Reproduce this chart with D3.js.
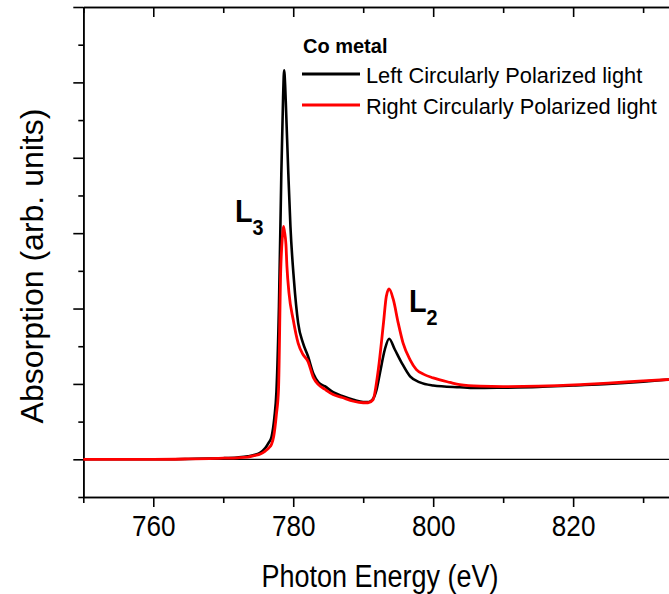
<!DOCTYPE html>
<html>
<head>
<meta charset="utf-8">
<script src="https://cdn.jsdelivr.net/npm/d3@7"></script>
<style>
  html, body { margin: 0; padding: 0; background: #fff; }
  svg { display: block; font-family: "Liberation Sans", Arial, sans-serif; }
</style>
</head>
<body>
<svg id="chart" width="669" height="594"></svg>
<script>
// Co L2,3 edge XMCD spectra: photon energy (eV) vs absorption (arb. units)
const lcpEnergy = [750, 760, 765, 768, 770, 772, 773.5, 774.5, 775.3, 776.0, 776.5, 776.9, 777.3, 777.6, 777.96, 778.3, 778.55, 778.7, 778.85, 778.96, 779.3, 779.6, 780.1, 780.7, 781.4, 782.1, 782.9, 783.6, 784.5, 785.7, 787, 788.6, 790.0, 790.8, 791.4, 791.9, 792.4, 793.1, 793.7, 794.5, 795.5, 796.7, 798.1, 800, 803.8, 806, 810, 815, 820, 825, 830, 834];
const lcpAbs    = [0, 0, 0.005, 0.01, 0.015, 0.025, 0.04, 0.06, 0.09, 0.15, 0.22, 0.3, 0.55, 0.9, 2.03, 3.79, 4.8, 5.16, 4.95, 4.68, 3.79, 3.09, 2.38, 1.81, 1.54, 1.37, 1.13, 1.02, 0.97, 0.89, 0.84, 0.79, 0.76, 0.76, 0.8, 0.92, 1.15, 1.46, 1.60, 1.46, 1.28, 1.10, 1.02, 0.98, 0.955, 0.945, 0.95, 0.96, 0.98, 1.0, 1.03, 1.06];

const rcpEnergy = [750, 760, 765, 768, 770, 772, 773.5, 774.5, 775.3, 776.0, 776.5, 776.9, 777.2, 777.6, 777.9, 778.2, 778.45, 778.6, 778.75, 778.96, 779.1, 779.4, 780.0, 780.7, 781.4, 782.1, 782.9, 783.6, 784.5, 785.7, 787, 788.6, 790.0, 790.7, 791.4, 792.1, 792.9, 793.3, 793.7, 794.3, 795.0, 795.7, 796.7, 797.6, 798.6, 800, 802.4, 803.8, 806.7, 810, 815, 821, 825, 830, 834];
const rcpAbs    = [0, 0, 0.005, 0.01, 0.015, 0.02, 0.03, 0.05, 0.07, 0.11, 0.15, 0.2, 0.3, 0.6, 0.93, 2.47, 2.95, 3.09, 3.02, 2.85, 2.56, 2.2, 1.85, 1.54, 1.39, 1.30, 1.08, 0.99, 0.93, 0.86, 0.82, 0.77, 0.75, 0.75, 0.79, 1.15, 1.81, 2.16, 2.26, 2.12, 1.81, 1.54, 1.32, 1.19, 1.13, 1.08, 1.02, 0.99, 0.97, 0.965, 0.97, 0.99, 1.01, 1.04, 1.06];

const xMajorTicks = [760, 780, 800, 820];
const xMinorTicks = [750, 770, 790, 810, 830];
const yMajorTicks = [0, 1, 2, 3, 4, 5, 6];
const yMinorTicks = [-0.5, 0.5, 1.5, 2.5, 3.5, 4.5, 5.5];

const seriesNames = ["Left Circularly Polarized light", "Right Circularly Polarized light"];
const seriesColors = ["#000000", "#ff0000"];
const legendTitle = "Co metal";

const svg = d3.select("#chart");

const x = d3.scaleLinear().domain([750, 833.7]).range([83.3, 669]);
const y = d3.scaleLinear().domain([-0.5, 6]).range([497, 7]);

const font = '"Liberation Sans", Arial, sans-serif';

// bottom axis: labelled major ticks + minor ticks, pointing out
const bottomMajor = svg.append("g")
  .attr("transform", `translate(0,${y(-0.5)})`)
  .call(d3.axisBottom(x).tickValues(xMajorTicks).tickSize(10).tickSizeOuter(0).tickPadding(8).tickFormat(d3.format("d")));
const bottomMinor = svg.append("g")
  .attr("transform", `translate(0,${y(-0.5)})`)
  .call(d3.axisBottom(x).tickValues(xMinorTicks).tickSize(6).tickSizeOuter(0).tickFormat(""));

// top axis: ticks pointing into the plot
const topMajor = svg.append("g")
  .attr("transform", `translate(0,${y(6)})`)
  .call(d3.axisTop(x).tickValues(xMajorTicks).tickSize(-10).tickSizeOuter(0).tickFormat(""));
const topMinor = svg.append("g")
  .attr("transform", `translate(0,${y(6)})`)
  .call(d3.axisTop(x).tickValues(xMinorTicks).tickSize(-6).tickSizeOuter(0).tickFormat(""));

// left axis: unlabelled ticks pointing out
const leftMajor = svg.append("g")
  .attr("transform", `translate(${x(750)},0)`)
  .call(d3.axisLeft(y).tickValues(yMajorTicks).tickSize(10).tickSizeOuter(0).tickFormat(""));
const leftMinor = svg.append("g")
  .attr("transform", `translate(${x(750)},0)`)
  .call(d3.axisLeft(y).tickValues(yMinorTicks).tickSize(5).tickSizeOuter(0).tickFormat(""));

svg.selectAll(".domain").attr("stroke", "#000").attr("stroke-width", 1.6);
svg.selectAll(".tick line").attr("stroke", "#000").attr("stroke-width", 1.6);
bottomMajor.selectAll(".tick text")
  .attr("font-family", font).attr("font-size", 30).attr("fill", "#000")
  .attr("transform", "scale(0.87,1)");

// zero baseline
svg.append("line")
  .attr("x1", x(750)).attr("x2", x(833.7))
  .attr("y1", y(0)).attr("y2", y(0))
  .attr("stroke", "#000").attr("stroke-width", 1.3);

// spectra
const line = d3.line()
  .x(d => x(d[0]))
  .y(d => y(d[1]))
  .curve(d3.curveMonotoneX);

const plot = svg.append("g");
plot.append("path")
  .datum(d3.zip(lcpEnergy, lcpAbs))
  .attr("fill", "none")
  .attr("stroke", seriesColors[0])
  .attr("stroke-width", 2.6)
  .attr("stroke-linejoin", "round")
  .attr("d", line);
plot.append("path")
  .datum(d3.zip(rcpEnergy, rcpAbs))
  .attr("fill", "none")
  .attr("stroke", seriesColors[1])
  .attr("stroke-width", 2.8)
  .attr("stroke-linejoin", "round")
  .attr("d", line);

// edge labels
function edgeLabel(px, py, main, sub) {
  const t = svg.append("text")
    .attr("transform", `translate(${px},${py}) scale(0.9,1)`)
    .attr("font-family", font).attr("font-weight", "bold")
    .attr("font-size", 32).attr("fill", "#000");
  t.append("tspan").text(main);
  t.append("tspan").attr("dy", 13).attr("font-size", 22).text(sub);
}
edgeLabel(235, 222, "L", "3");
edgeLabel(409, 312, "L", "2");

// legend
const legend = svg.append("g");
legend.append("text")
  .attr("x", 303).attr("y", 53)
  .attr("font-family", font).attr("font-weight", "bold")
  .attr("font-size", 20).attr("fill", "#000")
  .text(legendTitle);
seriesNames.forEach((name, i) => {
  const ly = 74 + i * 31;
  legend.append("line")
    .attr("x1", 302).attr("x2", 360)
    .attr("y1", ly).attr("y2", ly)
    .attr("stroke", seriesColors[i]).attr("stroke-width", 3);
  legend.append("text")
    .attr("x", 366).attr("y", ly + 9)
    .attr("font-family", font).attr("font-size", 21.8).attr("fill", "#000")
    .text(name);
});

// axis titles
svg.append("text")
  .attr("transform", "translate(380,587) scale(0.87,1)")
  .attr("text-anchor", "middle")
  .attr("font-family", font).attr("font-size", 31).attr("fill", "#000")
  .text("Photon Energy (eV)");
svg.append("text")
  .attr("transform", "translate(43,266) rotate(-90)")
  .attr("text-anchor", "middle")
  .attr("font-family", font).attr("font-size", 32).attr("fill", "#000")
  .text("Absorption (arb. units)");
</script>
</body>
</html>
